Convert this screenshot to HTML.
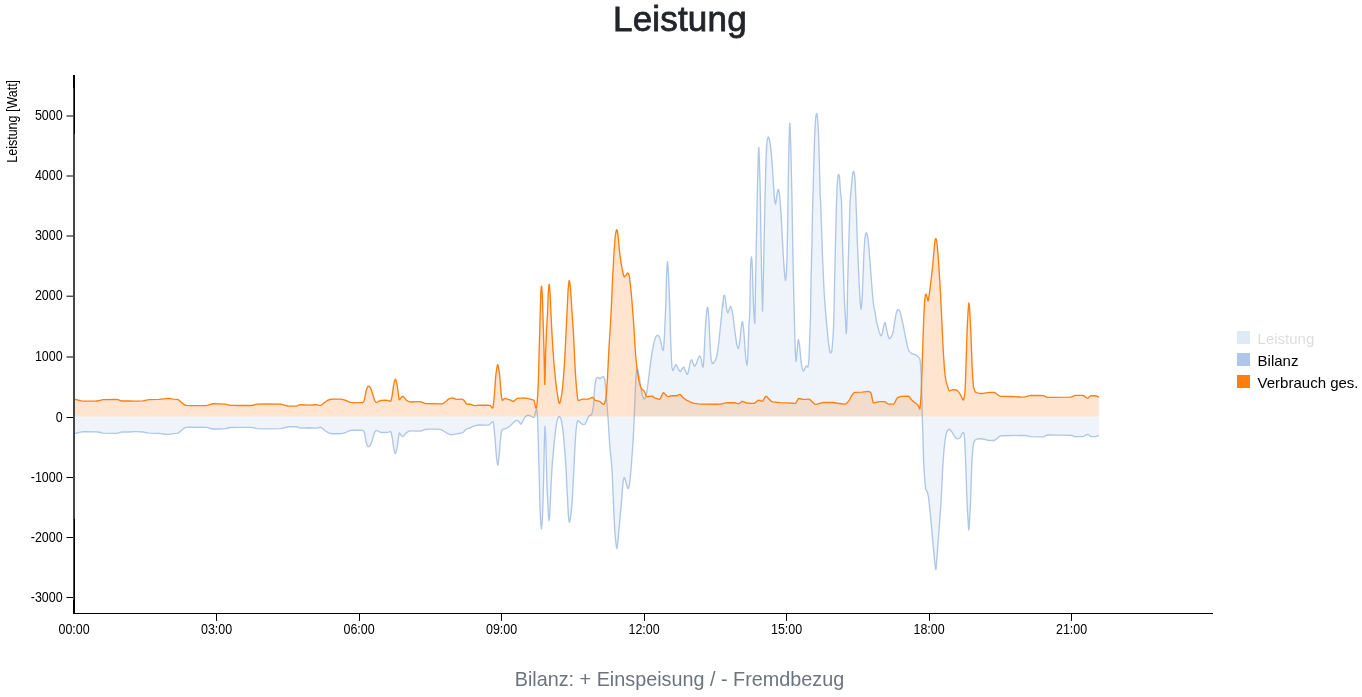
<!DOCTYPE html>
<html lang="de">
<head>
<meta charset="utf-8">
<title>Leistung</title>
<style>
html,body{margin:0;padding:0;background:#fff;}
body{width:1362px;height:697px;position:relative;overflow:hidden;font-family:"Liberation Sans",sans-serif;}
h1{position:absolute;left:0;top:0;width:1362px;margin:0;text-align:center;font-weight:400;font-size:35px;line-height:40px;color:#212529;-webkit-text-stroke:0.8px #212529;}
h1 span{display:inline-block;position:relative;left:-1.1px;top:-1.4px;letter-spacing:0.18px;}
p.cap{position:absolute;left:0;top:663.7px;width:1362px;margin:0;text-align:center;font-size:20.6px;line-height:30px;color:#6c757d;}
p.cap span{display:inline-block;position:relative;left:-1.7px;transform:scaleX(0.961);transform-origin:50% 50%;}
svg{position:absolute;left:0;top:0;}
svg text{font-family:"Liberation Sans",sans-serif;font-size:12.5px;fill:#000;}
.ax line{stroke:#000;stroke-width:1;}
</style>
</head>
<body>
<h1><span>Leistung</span></h1>
<svg width="1362" height="697" viewBox="0 0 1362 697">
<g class="series">
<path d="M74.00,433.34L76.00,433.26L78.50,432.58L81.50,431.93L84.00,431.62L96.50,431.81L98.00,432.01L102.00,432.94L103.50,433.15L116.82,433.34L118.00,433.16L121.00,432.02L122.00,431.81L129.00,431.97L134.50,431.65L136.50,431.63L143.00,432.00L147.50,432.91L149.00,433.14L159.00,433.39L166.00,434.24L169.00,434.36L173.50,433.70L177.00,433.42L178.00,433.23L179.00,432.59L181.00,430.72L183.50,428.66L185.00,427.68L185.50,427.52L186.50,427.40L190.00,427.16L206.50,427.32L208.00,427.59L211.50,428.77L213.24,429.04L219.00,428.96L225.29,428.70L226.50,428.49L229.00,427.73L230.00,427.53L236.00,427.35L251.50,427.33L253.00,427.56L256.00,428.38L257.50,428.66L266.61,428.87L280.50,428.69L282.00,428.42L285.50,427.33L288.50,426.75L290.00,426.63L296.00,426.73L297.00,426.98L299.50,427.89L300.50,428.06L309.27,427.72L316.16,428.06L317.00,427.99L319.50,427.46L320.50,427.37L321.00,427.47L322.00,428.05L324.50,430.28L328.00,432.63L329.00,433.04L330.00,433.28L332.50,433.71L340.26,433.74L341.50,433.64L345.00,432.75L349.00,430.90L350.00,430.58L351.00,430.43L353.50,430.21L356.00,430.13L361.50,430.24L362.64,430.30L363.00,430.44L363.50,430.97L364.00,431.80L364.50,432.91L366.00,441.70L366.50,443.27L367.50,445.82L368.00,446.51L368.33,446.66L369.00,446.41L369.50,445.98L370.50,444.79L371.00,443.79L371.50,442.41L374.50,432.79L375.00,431.73L375.50,431.10L376.00,430.62L376.50,430.47L377.50,430.78L379.50,431.91L381.00,432.27L382.50,432.50L384.50,432.52L387.61,432.37L388.50,432.14L390.00,431.58L390.54,431.51L391.00,432.18L391.50,434.02L392.26,437.70L393.50,446.95L393.98,449.76L394.50,451.75L395.00,453.18L395.36,453.54L395.50,453.48L396.00,452.46L397.00,448.46L399.00,434.04L399.32,433.05L399.50,433.10L400.00,433.60L401.00,435.08L402.00,436.19L402.59,436.50L403.00,436.37L403.50,435.96L404.50,434.93L406.00,433.03L406.50,432.57L408.50,431.43L410.00,430.91L411.50,430.82L418.00,431.13L420.00,431.13L421.50,430.78L424.50,429.64L426.00,429.29L431.50,429.12L437.00,429.12L440.50,429.36L441.50,429.80L447.00,433.20L449.00,434.16L450.50,434.70L451.19,434.78L452.50,434.69L456.36,433.92L460.50,433.22L462.50,432.67L463.50,431.97L465.50,429.82L466.50,429.02L467.50,428.63L470.13,427.89L473.50,426.14L474.44,425.83L477.50,425.27L480.00,425.01L488.50,425.10L489.00,424.87L489.50,424.48L491.50,422.50L492.50,421.72L493.03,421.52L493.50,423.18L494.50,432.02L496.50,457.63L496.82,460.26L497.50,464.30L497.85,465.08L498.00,464.87L498.50,461.84L499.00,457.48L500.00,444.23L501.00,434.54L501.50,431.43L502.00,430.24L502.50,429.53L502.84,429.27L504.00,428.89L506.29,428.41L508.00,427.50L510.59,425.48L513.50,422.51L515.50,420.79L516.00,420.48L516.50,420.32L517.00,420.37L518.00,420.88L519.00,421.65L520.50,423.88L521.00,424.10L521.50,423.64L524.00,418.75L525.00,417.11L526.50,415.82L527.50,415.27L528.15,415.15L529.00,415.30L531.50,416.47L533.00,417.34L533.84,417.56L534.00,417.44L534.50,415.94L536.00,410.08L536.50,409.70L536.76,409.64L537.00,410.55L537.50,416.20L538.00,429.81L540.00,507.22L540.72,522.76L541.00,526.13L541.41,528.79L541.50,528.64L542.10,522.76L542.50,515.49L542.96,503.31L543.65,477.48L544.34,443.04L545.00,426.21L545.50,432.75L546.00,446.49L547.00,488.15L548.47,515.87L548.99,520.70L549.50,517.68L549.68,515.87L551.00,486.39L551.91,468.87L552.50,460.84L554.00,444.44L555.50,430.72L556.50,424.07L557.00,421.41L557.50,419.58L558.50,417.00L559.00,416.39L559.15,416.36L559.50,416.51L560.00,417.14L560.50,418.11L561.00,419.28L561.50,421.17L562.59,427.55L563.50,435.60L565.00,453.40L566.00,468.32L568.00,508.96L568.44,515.87L569.00,520.53L569.50,522.24L570.00,520.64L571.00,514.23L572.00,504.13L572.50,496.00L575.00,445.63L575.50,437.81L576.00,431.03L576.36,427.55L577.00,423.16L577.50,420.97L577.74,420.66L578.50,420.95L580.00,422.20L581.50,423.80L582.00,424.09L583.50,424.38L584.63,424.45L585.00,424.23L585.50,423.42L588.50,416.40L589.00,415.79L589.50,415.51L591.00,414.99L591.52,414.63L592.00,413.50L592.50,411.20L593.50,405.42L594.10,400.00L594.30,392.98L595.00,384.75L595.50,381.83L596.00,379.78L596.50,378.33L597.00,377.77L598.00,377.49L598.50,377.55L599.50,378.59L600.00,378.86L600.50,378.54L601.50,377.28L601.71,377.13L602.50,376.80L603.50,376.63L604.00,377.34L604.50,378.88L605.00,381.13L606.00,391.39L608.08,418.80L609.59,443.04L610.00,448.01L611.50,463.19L612.18,472.31L614.00,515.60L614.93,532.58L615.50,539.29L615.96,543.42L616.50,547.51L616.83,548.59L617.00,548.25L617.50,544.92L618.00,540.54L619.00,528.62L621.50,501.93L622.50,488.39L623.00,482.80L623.50,479.74L624.00,477.74L624.23,477.48L624.50,477.70L625.00,478.94L625.61,480.92L626.98,486.09L627.50,487.56L628.00,488.57L628.19,488.67L628.50,488.26L629.00,486.34L629.50,483.79L630.00,480.03L631.00,469.76L633.18,439.60L634.21,417.22L635.50,385.14L636.00,375.96L636.49,370.59L637.00,369.34L637.50,368.87L638.00,369.89L639.50,378.50L640.79,387.81L642.00,393.79L642.50,395.52L643.50,398.15L644.00,398.90L644.24,399.00L644.50,398.92L645.00,398.38L645.96,396.42L646.50,394.18L648.00,383.76L650.50,363.23L651.50,356.02L652.50,350.04L653.50,344.90L654.50,340.68L655.50,337.63L656.00,336.54L656.29,336.16L657.00,335.54L657.50,335.31L658.00,335.38L658.50,335.79L659.39,337.02L660.00,338.56L660.94,342.18L662.00,347.94L662.31,349.07L663.00,350.37L663.17,350.45L663.50,349.01L664.00,343.48L664.50,334.46L665.50,312.07L665.93,300.00L666.50,276.71L667.00,266.76L667.50,261.69L668.00,265.44L668.50,274.08L670.00,315.19L670.50,335.82L671.50,360.69L671.96,367.15L672.50,369.71L672.99,370.59L673.50,369.89L675.00,365.80L675.50,364.73L675.74,364.57L676.00,364.66L676.50,365.26L677.12,366.29L678.67,369.73L679.50,370.85L680.00,371.32L680.39,371.45L681.00,370.88L682.00,369.02L683.00,367.72L683.50,367.26L683.84,367.15L684.00,367.25L684.50,368.42L685.21,370.59L686.50,373.56L687.00,374.26L687.28,374.38L687.50,374.23L688.00,372.98L689.00,368.87L690.00,363.50L690.38,361.98L691.00,360.42L691.58,359.75L692.00,360.23L694.00,365.66L694.51,366.29L695.00,365.97L695.50,365.18L696.50,363.11L698.00,358.80L699.00,356.81L699.50,356.12L699.85,355.96L700.00,356.02L700.50,356.96L701.00,358.59L701.50,360.82L702.00,364.23L702.26,365.43L702.50,366.12L703.00,367.10L703.12,367.15L703.50,364.32L704.00,356.52L705.00,334.69L706.00,317.84L707.00,309.25L707.50,307.29L707.60,307.23L708.00,308.77L708.80,317.22L710.00,342.92L710.50,351.93L711.00,358.29L711.50,360.93L712.00,362.82L712.50,363.68L713.00,363.56L713.50,363.08L714.50,361.71L715.50,359.81L716.50,356.99L717.00,354.86L717.50,351.89L718.50,344.75L719.50,335.73L721.71,313.77L722.50,304.14L722.92,301.72L723.00,306.68L723.33,298.14L723.50,297.25L724.00,295.57L724.37,295.21L724.50,295.31L725.00,297.00L725.40,299.00L726.50,307.88L727.00,310.43L727.50,312.36L727.81,312.78L728.00,312.65L730.00,307.16L730.50,306.42L731.00,306.96L732.00,310.41L732.50,312.61L733.00,315.52L734.50,328.72L736.50,343.06L737.00,345.24L737.50,346.93L738.00,348.17L738.42,348.55L738.50,348.51L739.00,346.74L740.00,339.63L741.17,327.55L742.00,322.38L742.38,321.52L742.50,321.65L743.00,324.25L743.58,329.27L744.00,334.11L745.50,355.27L745.99,360.26L746.50,363.70L747.02,365.43L747.50,361.42L747.89,355.10L748.92,325.83L749.50,317.94L749.99,305.17L750.05,294.70L750.50,268.93L751.00,260.35L751.50,256.84L752.00,261.16L752.40,268.87L753.09,294.70L753.77,311.91L754.50,321.84L754.81,323.24L755.00,318.16L755.50,286.09L757.50,185.26L757.91,168.87L758.50,150.43L758.77,147.35L759.00,149.79L760.00,182.09L760.32,196.42L761.00,242.72L761.50,269.46L762.00,292.17L762.56,311.05L763.00,297.51L764.97,200.00L766.00,159.49L766.50,148.78L767.00,141.92L767.50,139.12L768.00,137.50L768.41,137.02L768.50,137.05L769.00,138.10L769.61,140.46L770.00,142.38L771.00,150.00L771.50,155.38L772.37,167.15L774.00,192.55L774.50,198.97L775.00,202.56L775.50,204.16L776.00,201.85L777.00,194.42L777.50,191.37L778.00,189.99L778.40,189.53L778.50,189.61L779.00,191.53L779.50,194.72L780.50,205.91L781.15,215.36L783.00,250.88L784.00,267.16L785.00,278.34L785.50,280.56L786.00,277.89L786.50,272.14L787.00,257.94L787.50,235.49L788.50,167.66L788.90,148.21L789.50,126.57L789.76,123.24L790.00,125.33L790.50,138.62L791.00,155.94L792.00,200.13L792.69,243.04L793.55,286.09L795.00,343.47L795.27,351.65L795.50,355.61L796.00,361.16L796.13,361.47L796.50,358.91L797.00,351.82L798.00,341.14L798.37,339.60L798.50,339.71L799.00,341.76L799.57,345.63L800.78,358.54L801.50,364.38L801.98,367.15L802.50,369.24L803.00,370.72L803.36,371.11L803.50,371.07L804.00,370.39L805.00,368.15L806.00,366.31L806.46,365.94L807.00,366.35L807.50,366.97L807.84,367.15L808.00,366.92L808.50,363.89L809.00,358.49L810.50,317.68L811.00,282.55L811.97,243.04L812.50,213.98L813.86,161.98L814.50,141.07L814.90,130.99L815.50,119.94L816.00,115.62L816.50,113.53L816.62,113.43L817.00,114.35L817.50,117.37L818.00,124.23L818.50,134.63L819.37,161.98L820.00,189.87L820.23,196.42L820.58,200.00L822.50,256.60L824.00,290.16L825.00,305.09L827.00,327.96L828.50,342.64L829.50,349.60L830.00,352.23L830.39,353.03L831.00,352.64L831.60,351.65L832.00,349.56L832.98,337.88L833.50,328.57L834.00,313.94L834.70,277.48L836.50,202.58L837.28,184.37L838.00,176.02L838.14,175.41L838.50,174.65L838.83,174.38L839.00,174.64L839.52,177.48L840.50,192.40L841.41,200.00L841.50,201.68L842.27,234.44L844.00,291.11L844.50,303.09L845.37,317.22L846.00,331.45L846.23,333.57L846.50,331.80L847.00,321.73L847.61,286.09L848.00,270.45L850.00,203.60L850.19,200.00L852.50,175.04L853.00,172.19L853.50,171.33L853.64,171.28L854.00,171.88L854.50,174.05L855.00,179.80L855.36,186.09L856.05,203.44L857.50,245.67L859.00,280.96L859.50,291.04L860.00,298.79L860.50,305.73L861.00,309.31L861.50,306.80L862.25,296.42L863.50,263.49L864.00,251.99L864.50,243.81L865.00,237.80L865.34,235.30L866.00,232.91L866.21,232.71L866.50,232.92L867.00,234.00L867.50,235.64L868.00,238.91L868.79,246.49L869.50,254.99L872.00,288.55L873.00,299.75L873.50,304.25L874.00,307.28L874.81,311.19L876.50,321.32L878.00,327.46L879.00,331.17L879.81,333.57L880.50,335.08L881.00,335.75L881.18,335.81L881.50,335.58L882.00,334.48L882.56,332.71L883.50,327.16L884.00,324.91L884.50,323.13L885.00,322.39L885.50,323.61L886.01,325.83L887.21,332.71L888.00,335.85L889.00,338.30L889.45,338.74L890.00,338.49L890.50,337.96L891.50,336.48L892.00,335.40L893.00,332.30L893.50,329.66L895.50,316.89L896.00,314.19L896.34,312.91L897.00,311.04L897.50,309.96L898.00,309.48L898.50,309.62L899.00,310.09L899.78,311.19L900.50,313.13L902.50,321.99L907.00,344.70L907.87,348.21L908.50,349.78L909.00,350.78L909.59,351.65L910.50,352.59L911.50,353.36L912.50,353.85L915.50,354.70L916.00,354.95L917.00,355.66L919.00,357.64L919.50,358.40L920.00,359.70L920.50,364.65L921.00,373.17L922.00,400.61L922.38,419.97L922.90,434.44L923.50,457.83L924.00,468.57L924.50,475.93L925.50,487.71L925.83,489.53L926.00,489.93L927.00,491.22L927.50,492.40L928.41,496.42L929.00,500.89L931.00,521.13L934.00,554.61L935.00,564.61L935.50,568.69L935.81,569.59L936.00,568.99L936.50,563.50L940.98,503.31L942.50,471.69L943.00,463.15L944.00,449.82L945.00,440.33L946.00,434.65L946.50,432.69L946.83,431.85L947.50,430.68L948.00,429.97L948.50,429.48L949.07,429.27L949.50,429.39L950.00,429.75L951.50,431.44L955.00,436.89L956.50,438.25L957.00,438.56L957.50,438.73L958.00,438.72L959.00,438.38L960.26,437.53L960.50,437.22L961.50,434.57L961.98,433.57L963.00,432.49L963.36,432.37L963.50,432.48L964.00,434.41L964.50,438.00L965.00,446.86L965.50,458.55L967.00,500.42L967.50,510.84L968.50,527.10L968.87,529.99L969.00,529.32L970.50,503.63L971.45,472.31L972.00,460.71L972.49,453.37L973.00,447.72L973.50,443.84L973.69,443.04L974.50,441.08L975.00,440.27L975.50,439.76L976.50,439.29L978.00,438.85L979.00,438.74L980.00,438.76L984.50,439.28L988.00,440.25L989.00,440.43L994.00,440.45L994.50,440.31L995.50,439.68L999.00,436.75L1000.00,436.02L1000.50,435.84L1001.50,435.78L1023.50,435.30L1025.50,435.54L1029.50,436.41L1031.00,436.63L1042.91,436.85L1044.00,436.63L1046.50,435.37L1047.50,435.02L1048.00,434.95L1070.50,435.30L1071.50,435.47L1074.50,436.51L1075.62,436.67L1083.00,436.62L1084.00,436.22L1086.50,434.73L1087.50,434.44L1088.00,434.49L1088.50,434.76L1090.00,436.12L1090.50,436.48L1091.00,436.67L1094.56,436.67L1095.50,436.60L1097.00,436.21L1098.86,435.47L1098.86,416.50 L74.00,416.50 Z" fill="#aec7e8" fill-opacity="0.2" stroke="none"/>
<path d="M74.00,433.34L76.00,433.26L78.50,432.58L81.50,431.93L84.00,431.62L96.50,431.81L98.00,432.01L102.00,432.94L103.50,433.15L116.82,433.34L118.00,433.16L121.00,432.02L122.00,431.81L129.00,431.97L134.50,431.65L136.50,431.63L143.00,432.00L147.50,432.91L149.00,433.14L159.00,433.39L166.00,434.24L169.00,434.36L173.50,433.70L177.00,433.42L178.00,433.23L179.00,432.59L181.00,430.72L183.50,428.66L185.00,427.68L185.50,427.52L186.50,427.40L190.00,427.16L206.50,427.32L208.00,427.59L211.50,428.77L213.24,429.04L219.00,428.96L225.29,428.70L226.50,428.49L229.00,427.73L230.00,427.53L236.00,427.35L251.50,427.33L253.00,427.56L256.00,428.38L257.50,428.66L266.61,428.87L280.50,428.69L282.00,428.42L285.50,427.33L288.50,426.75L290.00,426.63L296.00,426.73L297.00,426.98L299.50,427.89L300.50,428.06L309.27,427.72L316.16,428.06L317.00,427.99L319.50,427.46L320.50,427.37L321.00,427.47L322.00,428.05L324.50,430.28L328.00,432.63L329.00,433.04L330.00,433.28L332.50,433.71L340.26,433.74L341.50,433.64L345.00,432.75L349.00,430.90L350.00,430.58L351.00,430.43L353.50,430.21L356.00,430.13L361.50,430.24L362.64,430.30L363.00,430.44L363.50,430.97L364.00,431.80L364.50,432.91L366.00,441.70L366.50,443.27L367.50,445.82L368.00,446.51L368.33,446.66L369.00,446.41L369.50,445.98L370.50,444.79L371.00,443.79L371.50,442.41L374.50,432.79L375.00,431.73L375.50,431.10L376.00,430.62L376.50,430.47L377.50,430.78L379.50,431.91L381.00,432.27L382.50,432.50L384.50,432.52L387.61,432.37L388.50,432.14L390.00,431.58L390.54,431.51L391.00,432.18L391.50,434.02L392.26,437.70L393.50,446.95L393.98,449.76L394.50,451.75L395.00,453.18L395.36,453.54L395.50,453.48L396.00,452.46L397.00,448.46L399.00,434.04L399.32,433.05L399.50,433.10L400.00,433.60L401.00,435.08L402.00,436.19L402.59,436.50L403.00,436.37L403.50,435.96L404.50,434.93L406.00,433.03L406.50,432.57L408.50,431.43L410.00,430.91L411.50,430.82L418.00,431.13L420.00,431.13L421.50,430.78L424.50,429.64L426.00,429.29L431.50,429.12L437.00,429.12L440.50,429.36L441.50,429.80L447.00,433.20L449.00,434.16L450.50,434.70L451.19,434.78L452.50,434.69L456.36,433.92L460.50,433.22L462.50,432.67L463.50,431.97L465.50,429.82L466.50,429.02L467.50,428.63L470.13,427.89L473.50,426.14L474.44,425.83L477.50,425.27L480.00,425.01L488.50,425.10L489.00,424.87L489.50,424.48L491.50,422.50L492.50,421.72L493.03,421.52L493.50,423.18L494.50,432.02L496.50,457.63L496.82,460.26L497.50,464.30L497.85,465.08L498.00,464.87L498.50,461.84L499.00,457.48L500.00,444.23L501.00,434.54L501.50,431.43L502.00,430.24L502.50,429.53L502.84,429.27L504.00,428.89L506.29,428.41L508.00,427.50L510.59,425.48L513.50,422.51L515.50,420.79L516.00,420.48L516.50,420.32L517.00,420.37L518.00,420.88L519.00,421.65L520.50,423.88L521.00,424.10L521.50,423.64L524.00,418.75L525.00,417.11L526.50,415.82L527.50,415.27L528.15,415.15L529.00,415.30L531.50,416.47L533.00,417.34L533.84,417.56L534.00,417.44L534.50,415.94L536.00,410.08L536.50,409.70L536.76,409.64L537.00,410.55L537.50,416.20L538.00,429.81L540.00,507.22L540.72,522.76L541.00,526.13L541.41,528.79L541.50,528.64L542.10,522.76L542.50,515.49L542.96,503.31L543.65,477.48L544.34,443.04L545.00,426.21L545.50,432.75L546.00,446.49L547.00,488.15L548.47,515.87L548.99,520.70L549.50,517.68L549.68,515.87L551.00,486.39L551.91,468.87L552.50,460.84L554.00,444.44L555.50,430.72L556.50,424.07L557.00,421.41L557.50,419.58L558.50,417.00L559.00,416.39L559.15,416.36L559.50,416.51L560.00,417.14L560.50,418.11L561.00,419.28L561.50,421.17L562.59,427.55L563.50,435.60L565.00,453.40L566.00,468.32L568.00,508.96L568.44,515.87L569.00,520.53L569.50,522.24L570.00,520.64L571.00,514.23L572.00,504.13L572.50,496.00L575.00,445.63L575.50,437.81L576.00,431.03L576.36,427.55L577.00,423.16L577.50,420.97L577.74,420.66L578.50,420.95L580.00,422.20L581.50,423.80L582.00,424.09L583.50,424.38L584.63,424.45L585.00,424.23L585.50,423.42L588.50,416.40L589.00,415.79L589.50,415.51L591.00,414.99L591.52,414.63L592.00,413.50L592.50,411.20L593.50,405.42L594.10,400.00L594.30,392.98L595.00,384.75L595.50,381.83L596.00,379.78L596.50,378.33L597.00,377.77L598.00,377.49L598.50,377.55L599.50,378.59L600.00,378.86L600.50,378.54L601.50,377.28L601.71,377.13L602.50,376.80L603.50,376.63L604.00,377.34L604.50,378.88L605.00,381.13L606.00,391.39L608.08,418.80L609.59,443.04L610.00,448.01L611.50,463.19L612.18,472.31L614.00,515.60L614.93,532.58L615.50,539.29L615.96,543.42L616.50,547.51L616.83,548.59L617.00,548.25L617.50,544.92L618.00,540.54L619.00,528.62L621.50,501.93L622.50,488.39L623.00,482.80L623.50,479.74L624.00,477.74L624.23,477.48L624.50,477.70L625.00,478.94L625.61,480.92L626.98,486.09L627.50,487.56L628.00,488.57L628.19,488.67L628.50,488.26L629.00,486.34L629.50,483.79L630.00,480.03L631.00,469.76L633.18,439.60L634.21,417.22L635.50,385.14L636.00,375.96L636.49,370.59L637.00,369.34L637.50,368.87L638.00,369.89L639.50,378.50L640.79,387.81L642.00,393.79L642.50,395.52L643.50,398.15L644.00,398.90L644.24,399.00L644.50,398.92L645.00,398.38L645.96,396.42L646.50,394.18L648.00,383.76L650.50,363.23L651.50,356.02L652.50,350.04L653.50,344.90L654.50,340.68L655.50,337.63L656.00,336.54L656.29,336.16L657.00,335.54L657.50,335.31L658.00,335.38L658.50,335.79L659.39,337.02L660.00,338.56L660.94,342.18L662.00,347.94L662.31,349.07L663.00,350.37L663.17,350.45L663.50,349.01L664.00,343.48L664.50,334.46L665.50,312.07L665.93,300.00L666.50,276.71L667.00,266.76L667.50,261.69L668.00,265.44L668.50,274.08L670.00,315.19L670.50,335.82L671.50,360.69L671.96,367.15L672.50,369.71L672.99,370.59L673.50,369.89L675.00,365.80L675.50,364.73L675.74,364.57L676.00,364.66L676.50,365.26L677.12,366.29L678.67,369.73L679.50,370.85L680.00,371.32L680.39,371.45L681.00,370.88L682.00,369.02L683.00,367.72L683.50,367.26L683.84,367.15L684.00,367.25L684.50,368.42L685.21,370.59L686.50,373.56L687.00,374.26L687.28,374.38L687.50,374.23L688.00,372.98L689.00,368.87L690.00,363.50L690.38,361.98L691.00,360.42L691.58,359.75L692.00,360.23L694.00,365.66L694.51,366.29L695.00,365.97L695.50,365.18L696.50,363.11L698.00,358.80L699.00,356.81L699.50,356.12L699.85,355.96L700.00,356.02L700.50,356.96L701.00,358.59L701.50,360.82L702.00,364.23L702.26,365.43L702.50,366.12L703.00,367.10L703.12,367.15L703.50,364.32L704.00,356.52L705.00,334.69L706.00,317.84L707.00,309.25L707.50,307.29L707.60,307.23L708.00,308.77L708.80,317.22L710.00,342.92L710.50,351.93L711.00,358.29L711.50,360.93L712.00,362.82L712.50,363.68L713.00,363.56L713.50,363.08L714.50,361.71L715.50,359.81L716.50,356.99L717.00,354.86L717.50,351.89L718.50,344.75L719.50,335.73L721.71,313.77L722.50,304.14L722.92,301.72L723.00,306.68L723.33,298.14L723.50,297.25L724.00,295.57L724.37,295.21L724.50,295.31L725.00,297.00L725.40,299.00L726.50,307.88L727.00,310.43L727.50,312.36L727.81,312.78L728.00,312.65L730.00,307.16L730.50,306.42L731.00,306.96L732.00,310.41L732.50,312.61L733.00,315.52L734.50,328.72L736.50,343.06L737.00,345.24L737.50,346.93L738.00,348.17L738.42,348.55L738.50,348.51L739.00,346.74L740.00,339.63L741.17,327.55L742.00,322.38L742.38,321.52L742.50,321.65L743.00,324.25L743.58,329.27L744.00,334.11L745.50,355.27L745.99,360.26L746.50,363.70L747.02,365.43L747.50,361.42L747.89,355.10L748.92,325.83L749.50,317.94L749.99,305.17L750.05,294.70L750.50,268.93L751.00,260.35L751.50,256.84L752.00,261.16L752.40,268.87L753.09,294.70L753.77,311.91L754.50,321.84L754.81,323.24L755.00,318.16L755.50,286.09L757.50,185.26L757.91,168.87L758.50,150.43L758.77,147.35L759.00,149.79L760.00,182.09L760.32,196.42L761.00,242.72L761.50,269.46L762.00,292.17L762.56,311.05L763.00,297.51L764.97,200.00L766.00,159.49L766.50,148.78L767.00,141.92L767.50,139.12L768.00,137.50L768.41,137.02L768.50,137.05L769.00,138.10L769.61,140.46L770.00,142.38L771.00,150.00L771.50,155.38L772.37,167.15L774.00,192.55L774.50,198.97L775.00,202.56L775.50,204.16L776.00,201.85L777.00,194.42L777.50,191.37L778.00,189.99L778.40,189.53L778.50,189.61L779.00,191.53L779.50,194.72L780.50,205.91L781.15,215.36L783.00,250.88L784.00,267.16L785.00,278.34L785.50,280.56L786.00,277.89L786.50,272.14L787.00,257.94L787.50,235.49L788.50,167.66L788.90,148.21L789.50,126.57L789.76,123.24L790.00,125.33L790.50,138.62L791.00,155.94L792.00,200.13L792.69,243.04L793.55,286.09L795.00,343.47L795.27,351.65L795.50,355.61L796.00,361.16L796.13,361.47L796.50,358.91L797.00,351.82L798.00,341.14L798.37,339.60L798.50,339.71L799.00,341.76L799.57,345.63L800.78,358.54L801.50,364.38L801.98,367.15L802.50,369.24L803.00,370.72L803.36,371.11L803.50,371.07L804.00,370.39L805.00,368.15L806.00,366.31L806.46,365.94L807.00,366.35L807.50,366.97L807.84,367.15L808.00,366.92L808.50,363.89L809.00,358.49L810.50,317.68L811.00,282.55L811.97,243.04L812.50,213.98L813.86,161.98L814.50,141.07L814.90,130.99L815.50,119.94L816.00,115.62L816.50,113.53L816.62,113.43L817.00,114.35L817.50,117.37L818.00,124.23L818.50,134.63L819.37,161.98L820.00,189.87L820.23,196.42L820.58,200.00L822.50,256.60L824.00,290.16L825.00,305.09L827.00,327.96L828.50,342.64L829.50,349.60L830.00,352.23L830.39,353.03L831.00,352.64L831.60,351.65L832.00,349.56L832.98,337.88L833.50,328.57L834.00,313.94L834.70,277.48L836.50,202.58L837.28,184.37L838.00,176.02L838.14,175.41L838.50,174.65L838.83,174.38L839.00,174.64L839.52,177.48L840.50,192.40L841.41,200.00L841.50,201.68L842.27,234.44L844.00,291.11L844.50,303.09L845.37,317.22L846.00,331.45L846.23,333.57L846.50,331.80L847.00,321.73L847.61,286.09L848.00,270.45L850.00,203.60L850.19,200.00L852.50,175.04L853.00,172.19L853.50,171.33L853.64,171.28L854.00,171.88L854.50,174.05L855.00,179.80L855.36,186.09L856.05,203.44L857.50,245.67L859.00,280.96L859.50,291.04L860.00,298.79L860.50,305.73L861.00,309.31L861.50,306.80L862.25,296.42L863.50,263.49L864.00,251.99L864.50,243.81L865.00,237.80L865.34,235.30L866.00,232.91L866.21,232.71L866.50,232.92L867.00,234.00L867.50,235.64L868.00,238.91L868.79,246.49L869.50,254.99L872.00,288.55L873.00,299.75L873.50,304.25L874.00,307.28L874.81,311.19L876.50,321.32L878.00,327.46L879.00,331.17L879.81,333.57L880.50,335.08L881.00,335.75L881.18,335.81L881.50,335.58L882.00,334.48L882.56,332.71L883.50,327.16L884.00,324.91L884.50,323.13L885.00,322.39L885.50,323.61L886.01,325.83L887.21,332.71L888.00,335.85L889.00,338.30L889.45,338.74L890.00,338.49L890.50,337.96L891.50,336.48L892.00,335.40L893.00,332.30L893.50,329.66L895.50,316.89L896.00,314.19L896.34,312.91L897.00,311.04L897.50,309.96L898.00,309.48L898.50,309.62L899.00,310.09L899.78,311.19L900.50,313.13L902.50,321.99L907.00,344.70L907.87,348.21L908.50,349.78L909.00,350.78L909.59,351.65L910.50,352.59L911.50,353.36L912.50,353.85L915.50,354.70L916.00,354.95L917.00,355.66L919.00,357.64L919.50,358.40L920.00,359.70L920.50,364.65L921.00,373.17L922.00,400.61L922.38,419.97L922.90,434.44L923.50,457.83L924.00,468.57L924.50,475.93L925.50,487.71L925.83,489.53L926.00,489.93L927.00,491.22L927.50,492.40L928.41,496.42L929.00,500.89L931.00,521.13L934.00,554.61L935.00,564.61L935.50,568.69L935.81,569.59L936.00,568.99L936.50,563.50L940.98,503.31L942.50,471.69L943.00,463.15L944.00,449.82L945.00,440.33L946.00,434.65L946.50,432.69L946.83,431.85L947.50,430.68L948.00,429.97L948.50,429.48L949.07,429.27L949.50,429.39L950.00,429.75L951.50,431.44L955.00,436.89L956.50,438.25L957.00,438.56L957.50,438.73L958.00,438.72L959.00,438.38L960.26,437.53L960.50,437.22L961.50,434.57L961.98,433.57L963.00,432.49L963.36,432.37L963.50,432.48L964.00,434.41L964.50,438.00L965.00,446.86L965.50,458.55L967.00,500.42L967.50,510.84L968.50,527.10L968.87,529.99L969.00,529.32L970.50,503.63L971.45,472.31L972.00,460.71L972.49,453.37L973.00,447.72L973.50,443.84L973.69,443.04L974.50,441.08L975.00,440.27L975.50,439.76L976.50,439.29L978.00,438.85L979.00,438.74L980.00,438.76L984.50,439.28L988.00,440.25L989.00,440.43L994.00,440.45L994.50,440.31L995.50,439.68L999.00,436.75L1000.00,436.02L1000.50,435.84L1001.50,435.78L1023.50,435.30L1025.50,435.54L1029.50,436.41L1031.00,436.63L1042.91,436.85L1044.00,436.63L1046.50,435.37L1047.50,435.02L1048.00,434.95L1070.50,435.30L1071.50,435.47L1074.50,436.51L1075.62,436.67L1083.00,436.62L1084.00,436.22L1086.50,434.73L1087.50,434.44L1088.00,434.49L1088.50,434.76L1090.00,436.12L1090.50,436.48L1091.00,436.67L1094.56,436.67L1095.50,436.60L1097.00,436.21L1098.86,435.47" fill="none" stroke="#aec7e8" stroke-width="1.35" stroke-linejoin="round"/>
<path d="M74.00,399.46L76.00,399.54L78.50,400.22L81.50,400.87L84.00,401.18L96.50,400.99L98.00,400.79L102.00,399.86L103.50,399.65L116.82,399.46L118.00,399.64L121.00,400.78L122.00,400.99L129.00,400.83L134.50,401.15L136.50,401.17L143.00,400.80L147.50,399.89L149.00,399.66L159.00,399.41L166.00,398.56L169.00,398.44L173.50,399.10L177.00,399.38L178.00,399.57L179.00,400.21L181.00,402.08L183.50,404.14L185.00,405.12L185.50,405.28L186.50,405.40L190.00,405.64L206.50,405.48L208.00,405.21L211.50,404.03L213.24,403.76L219.00,403.84L225.29,404.10L226.50,404.31L229.00,405.07L230.00,405.27L236.00,405.45L251.50,405.47L253.00,405.24L256.00,404.42L257.50,404.14L266.61,403.93L280.50,404.11L282.00,404.38L285.50,405.47L288.50,406.05L290.00,406.17L296.00,406.07L297.00,405.82L299.50,404.91L300.50,404.74L309.27,405.08L316.16,404.74L317.00,404.81L319.50,405.34L320.50,405.43L321.00,405.33L322.00,404.75L324.50,402.52L328.00,400.17L329.00,399.76L330.00,399.52L332.50,399.09L340.26,399.06L341.50,399.16L345.00,400.05L349.00,401.90L350.00,402.22L351.00,402.37L353.50,402.59L356.00,402.67L361.50,402.56L362.64,402.50L363.00,402.36L363.50,401.83L364.00,401.00L364.50,399.89L366.00,391.10L366.50,389.53L367.50,386.98L368.00,386.29L368.33,386.14L369.00,386.39L369.50,386.82L370.50,388.01L371.00,389.01L371.50,390.39L374.50,400.01L375.00,401.07L375.50,401.70L376.00,402.18L376.50,402.33L377.50,402.02L379.50,400.89L381.00,400.53L382.50,400.30L384.50,400.28L387.61,400.43L388.50,400.66L390.00,401.22L390.54,401.29L391.00,400.62L391.50,398.78L392.26,395.10L393.50,385.85L393.98,383.04L394.50,381.05L395.00,379.62L395.36,379.26L395.50,379.32L396.00,380.34L397.00,384.34L399.00,398.76L399.32,399.75L399.50,399.70L400.00,399.20L401.00,397.72L402.00,396.61L402.59,396.30L403.00,396.43L403.50,396.84L404.50,397.87L406.00,399.77L406.50,400.23L408.50,401.37L410.00,401.89L411.50,401.98L418.00,401.67L420.00,401.67L421.50,402.02L424.50,403.16L426.00,403.51L441.85,403.88L442.50,403.76L443.00,403.55L444.00,402.91L446.00,401.44L448.00,399.56L449.00,398.81L449.59,398.54L451.00,398.16L452.50,398.04L453.50,398.25L456.00,399.17L457.00,399.38L458.00,399.38L461.50,399.06L462.00,399.10L462.50,399.30L464.00,400.36L464.50,400.97L466.00,403.42L466.50,403.93L466.81,404.05L470.50,404.25L471.50,404.55L473.50,405.41L474.50,405.60L479.50,405.26L487.00,405.26L490.06,405.43L490.50,405.68L492.00,407.78L492.58,408.14L493.00,407.06L493.50,403.60L494.30,396.09L495.50,379.57L496.00,373.91L497.00,366.99L497.50,365.03L497.75,364.75L498.00,365.04L498.50,367.04L499.50,373.93L500.00,379.44L501.00,392.75L501.50,396.53L502.00,399.47L502.40,400.39L503.00,400.08L504.00,399.01L504.50,398.69L505.00,398.68L506.50,398.89L509.00,399.55L510.00,399.95L512.00,400.97L513.24,401.25L514.00,401.03L514.50,400.68L516.50,398.82L517.00,398.50L517.50,398.33L521.00,398.07L524.44,397.98L525.50,398.05L527.00,398.33L532.00,399.56L533.00,399.91L534.00,400.49L534.50,402.01L535.50,406.95L536.00,408.40L536.14,408.48L536.50,407.59L537.00,403.78L537.50,397.82L538.00,390.21L538.50,375.58L540.79,292.78L541.00,289.68L541.50,286.08L542.00,290.35L542.17,292.78L542.50,301.23L544.00,350.69L544.50,377.09L544.75,384.38L545.00,379.62L545.61,353.04L546.47,330.66L547.51,313.44L548.37,291.06L549.00,284.98L549.23,284.35L549.50,285.80L550.00,292.26L551.81,330.66L553.00,350.32L554.00,363.82L555.50,379.58L556.50,388.17L558.50,400.92L559.00,402.81L559.39,403.32L559.50,403.29L560.00,402.44L560.50,400.69L561.50,395.84L562.00,392.57L562.50,388.22L563.50,377.09L564.50,363.32L565.00,354.34L568.00,291.66L568.50,285.40L569.00,281.05L569.20,280.56L569.50,281.18L570.00,284.15L570.50,288.61L571.61,306.56L573.33,330.66L575.00,366.28L575.50,374.55L576.50,388.18L577.50,397.39L578.00,400.19L578.15,400.39L579.00,400.30L582.00,399.35L582.98,399.19L588.50,398.97L589.50,398.61L591.50,397.65L592.50,397.47L593.00,397.71L593.50,398.24L594.50,399.61L595.00,400.16L595.37,400.39L599.50,401.32L600.50,402.02L602.50,403.89L603.00,404.20L603.64,404.35L604.00,404.17L604.50,403.37L605.00,402.05L605.70,399.53L606.00,397.72L606.50,392.40L607.50,377.69L609.15,344.44L610.52,323.77L611.38,306.56L612.59,279.01L613.97,253.18L615.00,238.97L615.34,235.96L616.00,231.90L616.50,230.00L616.72,229.77L617.00,230.11L617.50,231.97L618.00,234.93L619.13,247.84L620.00,255.36L620.85,261.62L622.00,268.40L623.50,275.06L624.00,276.50L624.30,276.77L624.50,276.73L625.00,276.33L626.02,275.05L627.00,273.60L627.50,273.06L627.74,272.98L628.00,273.09L628.50,273.84L629.12,275.39L629.50,277.25L631.00,290.37L632.00,301.58L634.00,328.30L635.00,345.60L635.49,353.04L636.00,358.91L637.00,368.38L637.73,373.71L638.50,378.31L639.50,382.98L640.50,386.27L641.00,387.61L641.50,388.67L642.00,389.36L644.10,390.92L644.50,391.54L645.00,392.68L646.00,395.25L646.50,396.21L647.00,396.60L648.00,396.55L651.00,396.13L652.00,396.10L652.50,396.25L653.00,396.54L654.50,397.72L655.29,398.15L658.00,399.00L659.59,399.19L660.00,398.94L660.50,398.12L661.50,395.85L662.50,393.96L663.00,393.08L663.50,392.65L664.00,392.83L665.50,394.60L667.00,396.01L667.50,396.38L668.00,396.58L669.00,396.51L672.00,395.61L677.00,395.73L677.50,395.55L679.00,394.59L679.74,394.37L680.00,394.41L680.50,394.72L682.50,397.15L684.50,398.75L687.00,400.38L690.00,401.86L692.50,402.88L694.50,403.42L698.00,403.93L701.00,404.17L715.50,404.22L720.33,404.05L722.00,403.79L725.50,402.87L727.22,402.67L734.50,402.70L735.50,402.93L737.50,403.59L738.50,403.70L739.00,403.57L739.50,403.29L741.50,401.74L742.37,401.47L743.50,401.68L746.00,402.77L747.00,403.01L750.50,403.27L754.00,403.36L754.50,403.23L755.00,402.95L757.50,400.76L758.00,400.45L758.50,400.28L759.50,400.39L761.50,401.19L762.17,401.29L762.50,401.19L763.00,400.68L763.50,399.88L765.00,397.10L765.50,396.50L765.96,396.30L766.50,396.44L767.00,396.79L769.00,399.01L771.00,401.02L771.50,401.42L771.98,401.64L773.00,401.86L776.00,402.29L780.00,402.56L787.50,402.85L793.00,403.28L795.23,403.36L795.50,403.27L796.00,402.74L798.00,399.02L798.50,398.57L798.67,398.54L800.00,398.68L802.50,399.26L803.50,399.39L805.00,399.36L808.50,399.07L809.00,399.06L809.50,399.17L810.50,399.93L812.00,401.57L814.50,404.03L815.00,404.32L815.37,404.39L817.00,404.20L821.50,402.81L823.50,402.50L833.00,402.53L837.50,403.25L841.50,403.78L845.16,404.05L846.00,403.79L846.50,403.43L848.60,401.12L849.50,399.77L851.50,395.93L853.00,393.76L854.00,392.62L854.63,392.34L862.00,392.14L866.50,391.59L868.50,391.48L869.00,391.57L870.00,392.05L870.64,392.51L871.00,393.16L871.50,395.00L872.50,399.92L873.00,401.90L873.50,402.83L875.00,402.67L878.00,401.85L879.00,401.67L884.00,401.64L885.00,401.92L887.50,403.52L888.50,403.97L889.06,404.05L893.50,404.03L894.00,403.72L894.50,403.07L896.50,399.17L897.00,398.35L897.67,397.68L899.50,396.85L901.50,396.34L908.00,396.13L908.50,396.25L909.00,396.58L909.50,397.07L911.50,399.72L912.31,400.61L914.00,402.00L916.50,403.74L917.22,404.35L918.00,405.40L918.60,406.42L919.50,408.70L919.80,409.00L920.00,408.47L920.50,403.58L921.01,396.09L921.50,385.54L923.50,324.29L924.10,310.00L924.62,301.39L925.00,297.76L925.31,295.88L925.50,295.12L926.00,293.99L926.50,294.98L928.00,300.84L928.06,300.87L928.50,299.57L930.00,288.96L932.00,271.83L932.71,265.06L934.50,245.13L935.00,240.67L935.50,238.95L935.81,238.55L936.00,238.70L936.50,240.23L937.00,243.12L938.00,254.44L939.00,268.08L940.50,293.33L943.00,346.08L943.50,354.82L944.50,369.44L945.11,375.43L946.00,380.62L946.50,382.81L947.00,384.64L948.50,389.29L949.00,390.39L949.50,390.91L950.00,390.88L950.50,390.72L952.50,389.73L953.37,389.55L955.00,389.77L957.00,390.49L957.50,390.84L958.50,391.90L960.26,394.37L961.00,395.79L962.50,399.22L963.00,399.89L963.36,400.05L963.50,399.97L964.00,398.59L964.50,395.77L965.00,391.70L965.50,380.57L967.15,328.94L968.00,313.04L968.50,306.20L968.87,302.94L969.00,303.21L969.56,308.11L970.00,315.29L971.00,335.58L972.00,363.56L972.31,370.26L973.00,381.04L973.50,386.38L973.69,387.48L974.50,390.26L975.00,391.41L975.50,392.12L976.50,392.63L978.00,393.13L979.50,393.42L980.92,393.51L983.00,393.35L987.50,392.67L991.50,392.37L994.00,392.31L995.00,392.69L999.50,396.00L1000.00,396.27L1000.72,396.43L1011.50,396.45L1020.00,397.02L1023.11,397.12L1025.00,396.91L1029.00,395.81L1031.00,395.43L1039.00,395.47L1043.50,395.66L1044.50,396.03L1046.50,397.06L1047.50,397.40L1051.50,397.44L1070.50,397.12L1071.50,396.91L1074.00,395.79L1075.00,395.47L1075.62,395.40L1082.51,395.40L1083.50,395.67L1086.50,397.79L1087.50,398.15L1088.00,398.09L1088.50,397.80L1090.00,396.34L1090.50,395.95L1091.00,395.75L1094.56,395.74L1095.50,395.83L1097.00,396.27L1098.86,397.12L1098.86,416.50 L74.00,416.50 Z" fill="#ff7f0e" fill-opacity="0.2" stroke="none"/>
<path d="M74.00,399.46L76.00,399.54L78.50,400.22L81.50,400.87L84.00,401.18L96.50,400.99L98.00,400.79L102.00,399.86L103.50,399.65L116.82,399.46L118.00,399.64L121.00,400.78L122.00,400.99L129.00,400.83L134.50,401.15L136.50,401.17L143.00,400.80L147.50,399.89L149.00,399.66L159.00,399.41L166.00,398.56L169.00,398.44L173.50,399.10L177.00,399.38L178.00,399.57L179.00,400.21L181.00,402.08L183.50,404.14L185.00,405.12L185.50,405.28L186.50,405.40L190.00,405.64L206.50,405.48L208.00,405.21L211.50,404.03L213.24,403.76L219.00,403.84L225.29,404.10L226.50,404.31L229.00,405.07L230.00,405.27L236.00,405.45L251.50,405.47L253.00,405.24L256.00,404.42L257.50,404.14L266.61,403.93L280.50,404.11L282.00,404.38L285.50,405.47L288.50,406.05L290.00,406.17L296.00,406.07L297.00,405.82L299.50,404.91L300.50,404.74L309.27,405.08L316.16,404.74L317.00,404.81L319.50,405.34L320.50,405.43L321.00,405.33L322.00,404.75L324.50,402.52L328.00,400.17L329.00,399.76L330.00,399.52L332.50,399.09L340.26,399.06L341.50,399.16L345.00,400.05L349.00,401.90L350.00,402.22L351.00,402.37L353.50,402.59L356.00,402.67L361.50,402.56L362.64,402.50L363.00,402.36L363.50,401.83L364.00,401.00L364.50,399.89L366.00,391.10L366.50,389.53L367.50,386.98L368.00,386.29L368.33,386.14L369.00,386.39L369.50,386.82L370.50,388.01L371.00,389.01L371.50,390.39L374.50,400.01L375.00,401.07L375.50,401.70L376.00,402.18L376.50,402.33L377.50,402.02L379.50,400.89L381.00,400.53L382.50,400.30L384.50,400.28L387.61,400.43L388.50,400.66L390.00,401.22L390.54,401.29L391.00,400.62L391.50,398.78L392.26,395.10L393.50,385.85L393.98,383.04L394.50,381.05L395.00,379.62L395.36,379.26L395.50,379.32L396.00,380.34L397.00,384.34L399.00,398.76L399.32,399.75L399.50,399.70L400.00,399.20L401.00,397.72L402.00,396.61L402.59,396.30L403.00,396.43L403.50,396.84L404.50,397.87L406.00,399.77L406.50,400.23L408.50,401.37L410.00,401.89L411.50,401.98L418.00,401.67L420.00,401.67L421.50,402.02L424.50,403.16L426.00,403.51L441.85,403.88L442.50,403.76L443.00,403.55L444.00,402.91L446.00,401.44L448.00,399.56L449.00,398.81L449.59,398.54L451.00,398.16L452.50,398.04L453.50,398.25L456.00,399.17L457.00,399.38L458.00,399.38L461.50,399.06L462.00,399.10L462.50,399.30L464.00,400.36L464.50,400.97L466.00,403.42L466.50,403.93L466.81,404.05L470.50,404.25L471.50,404.55L473.50,405.41L474.50,405.60L479.50,405.26L487.00,405.26L490.06,405.43L490.50,405.68L492.00,407.78L492.58,408.14L493.00,407.06L493.50,403.60L494.30,396.09L495.50,379.57L496.00,373.91L497.00,366.99L497.50,365.03L497.75,364.75L498.00,365.04L498.50,367.04L499.50,373.93L500.00,379.44L501.00,392.75L501.50,396.53L502.00,399.47L502.40,400.39L503.00,400.08L504.00,399.01L504.50,398.69L505.00,398.68L506.50,398.89L509.00,399.55L510.00,399.95L512.00,400.97L513.24,401.25L514.00,401.03L514.50,400.68L516.50,398.82L517.00,398.50L517.50,398.33L521.00,398.07L524.44,397.98L525.50,398.05L527.00,398.33L532.00,399.56L533.00,399.91L534.00,400.49L534.50,402.01L535.50,406.95L536.00,408.40L536.14,408.48L536.50,407.59L537.00,403.78L537.50,397.82L538.00,390.21L538.50,375.58L540.79,292.78L541.00,289.68L541.50,286.08L542.00,290.35L542.17,292.78L542.50,301.23L544.00,350.69L544.50,377.09L544.75,384.38L545.00,379.62L545.61,353.04L546.47,330.66L547.51,313.44L548.37,291.06L549.00,284.98L549.23,284.35L549.50,285.80L550.00,292.26L551.81,330.66L553.00,350.32L554.00,363.82L555.50,379.58L556.50,388.17L558.50,400.92L559.00,402.81L559.39,403.32L559.50,403.29L560.00,402.44L560.50,400.69L561.50,395.84L562.00,392.57L562.50,388.22L563.50,377.09L564.50,363.32L565.00,354.34L568.00,291.66L568.50,285.40L569.00,281.05L569.20,280.56L569.50,281.18L570.00,284.15L570.50,288.61L571.61,306.56L573.33,330.66L575.00,366.28L575.50,374.55L576.50,388.18L577.50,397.39L578.00,400.19L578.15,400.39L579.00,400.30L582.00,399.35L582.98,399.19L588.50,398.97L589.50,398.61L591.50,397.65L592.50,397.47L593.00,397.71L593.50,398.24L594.50,399.61L595.00,400.16L595.37,400.39L599.50,401.32L600.50,402.02L602.50,403.89L603.00,404.20L603.64,404.35L604.00,404.17L604.50,403.37L605.00,402.05L605.70,399.53L606.00,397.72L606.50,392.40L607.50,377.69L609.15,344.44L610.52,323.77L611.38,306.56L612.59,279.01L613.97,253.18L615.00,238.97L615.34,235.96L616.00,231.90L616.50,230.00L616.72,229.77L617.00,230.11L617.50,231.97L618.00,234.93L619.13,247.84L620.00,255.36L620.85,261.62L622.00,268.40L623.50,275.06L624.00,276.50L624.30,276.77L624.50,276.73L625.00,276.33L626.02,275.05L627.00,273.60L627.50,273.06L627.74,272.98L628.00,273.09L628.50,273.84L629.12,275.39L629.50,277.25L631.00,290.37L632.00,301.58L634.00,328.30L635.00,345.60L635.49,353.04L636.00,358.91L637.00,368.38L637.73,373.71L638.50,378.31L639.50,382.98L640.50,386.27L641.00,387.61L641.50,388.67L642.00,389.36L644.10,390.92L644.50,391.54L645.00,392.68L646.00,395.25L646.50,396.21L647.00,396.60L648.00,396.55L651.00,396.13L652.00,396.10L652.50,396.25L653.00,396.54L654.50,397.72L655.29,398.15L658.00,399.00L659.59,399.19L660.00,398.94L660.50,398.12L661.50,395.85L662.50,393.96L663.00,393.08L663.50,392.65L664.00,392.83L665.50,394.60L667.00,396.01L667.50,396.38L668.00,396.58L669.00,396.51L672.00,395.61L677.00,395.73L677.50,395.55L679.00,394.59L679.74,394.37L680.00,394.41L680.50,394.72L682.50,397.15L684.50,398.75L687.00,400.38L690.00,401.86L692.50,402.88L694.50,403.42L698.00,403.93L701.00,404.17L715.50,404.22L720.33,404.05L722.00,403.79L725.50,402.87L727.22,402.67L734.50,402.70L735.50,402.93L737.50,403.59L738.50,403.70L739.00,403.57L739.50,403.29L741.50,401.74L742.37,401.47L743.50,401.68L746.00,402.77L747.00,403.01L750.50,403.27L754.00,403.36L754.50,403.23L755.00,402.95L757.50,400.76L758.00,400.45L758.50,400.28L759.50,400.39L761.50,401.19L762.17,401.29L762.50,401.19L763.00,400.68L763.50,399.88L765.00,397.10L765.50,396.50L765.96,396.30L766.50,396.44L767.00,396.79L769.00,399.01L771.00,401.02L771.50,401.42L771.98,401.64L773.00,401.86L776.00,402.29L780.00,402.56L787.50,402.85L793.00,403.28L795.23,403.36L795.50,403.27L796.00,402.74L798.00,399.02L798.50,398.57L798.67,398.54L800.00,398.68L802.50,399.26L803.50,399.39L805.00,399.36L808.50,399.07L809.00,399.06L809.50,399.17L810.50,399.93L812.00,401.57L814.50,404.03L815.00,404.32L815.37,404.39L817.00,404.20L821.50,402.81L823.50,402.50L833.00,402.53L837.50,403.25L841.50,403.78L845.16,404.05L846.00,403.79L846.50,403.43L848.60,401.12L849.50,399.77L851.50,395.93L853.00,393.76L854.00,392.62L854.63,392.34L862.00,392.14L866.50,391.59L868.50,391.48L869.00,391.57L870.00,392.05L870.64,392.51L871.00,393.16L871.50,395.00L872.50,399.92L873.00,401.90L873.50,402.83L875.00,402.67L878.00,401.85L879.00,401.67L884.00,401.64L885.00,401.92L887.50,403.52L888.50,403.97L889.06,404.05L893.50,404.03L894.00,403.72L894.50,403.07L896.50,399.17L897.00,398.35L897.67,397.68L899.50,396.85L901.50,396.34L908.00,396.13L908.50,396.25L909.00,396.58L909.50,397.07L911.50,399.72L912.31,400.61L914.00,402.00L916.50,403.74L917.22,404.35L918.00,405.40L918.60,406.42L919.50,408.70L919.80,409.00L920.00,408.47L920.50,403.58L921.01,396.09L921.50,385.54L923.50,324.29L924.10,310.00L924.62,301.39L925.00,297.76L925.31,295.88L925.50,295.12L926.00,293.99L926.50,294.98L928.00,300.84L928.06,300.87L928.50,299.57L930.00,288.96L932.00,271.83L932.71,265.06L934.50,245.13L935.00,240.67L935.50,238.95L935.81,238.55L936.00,238.70L936.50,240.23L937.00,243.12L938.00,254.44L939.00,268.08L940.50,293.33L943.00,346.08L943.50,354.82L944.50,369.44L945.11,375.43L946.00,380.62L946.50,382.81L947.00,384.64L948.50,389.29L949.00,390.39L949.50,390.91L950.00,390.88L950.50,390.72L952.50,389.73L953.37,389.55L955.00,389.77L957.00,390.49L957.50,390.84L958.50,391.90L960.26,394.37L961.00,395.79L962.50,399.22L963.00,399.89L963.36,400.05L963.50,399.97L964.00,398.59L964.50,395.77L965.00,391.70L965.50,380.57L967.15,328.94L968.00,313.04L968.50,306.20L968.87,302.94L969.00,303.21L969.56,308.11L970.00,315.29L971.00,335.58L972.00,363.56L972.31,370.26L973.00,381.04L973.50,386.38L973.69,387.48L974.50,390.26L975.00,391.41L975.50,392.12L976.50,392.63L978.00,393.13L979.50,393.42L980.92,393.51L983.00,393.35L987.50,392.67L991.50,392.37L994.00,392.31L995.00,392.69L999.50,396.00L1000.00,396.27L1000.72,396.43L1011.50,396.45L1020.00,397.02L1023.11,397.12L1025.00,396.91L1029.00,395.81L1031.00,395.43L1039.00,395.47L1043.50,395.66L1044.50,396.03L1046.50,397.06L1047.50,397.40L1051.50,397.44L1070.50,397.12L1071.50,396.91L1074.00,395.79L1075.00,395.47L1075.62,395.40L1082.51,395.40L1083.50,395.67L1086.50,397.79L1087.50,398.15L1088.00,398.09L1088.50,397.80L1090.00,396.34L1090.50,395.95L1091.00,395.75L1094.56,395.74L1095.50,395.83L1097.00,396.27L1098.86,397.12" fill="none" stroke="#ff7f0e" stroke-width="1.35" stroke-linejoin="round"/>
</g>
<g class="ax">
<rect x="73" y="75" width="2" height="539" fill="#454545"/>
<rect x="73" y="75" width="2" height="13" fill="#000"/>
<rect x="74" y="88" width="1" height="46" fill="#000"/>
<rect x="74" y="519" width="1" height="95" fill="#000"/>
<rect x="73" y="600" width="2" height="14" fill="#000"/>
<rect x="73" y="613" width="1140" height="1" fill="#000"/>
<line x1="66.5" x2="73" y1="597.50" y2="597.50"/><line x1="66.5" x2="73" y1="537.50" y2="537.50"/><line x1="66.5" x2="73" y1="477.50" y2="477.50"/><line x1="66.5" x2="73" y1="417.50" y2="417.50"/><line x1="66.5" x2="73" y1="357.00" y2="357.00"/><line x1="66.5" x2="73" y1="296.20" y2="296.20"/><line x1="66.5" x2="73" y1="236.00" y2="236.00"/><line x1="66.5" x2="73" y1="176.00" y2="176.00"/><line x1="66.5" x2="73" y1="116.00" y2="116.00"/>
<line x1="216.50" x2="216.50" y1="614" y2="620.9"/><line x1="359.50" x2="359.50" y1="614" y2="620.9"/><line x1="501.50" x2="501.50" y1="614" y2="620.9"/><line x1="644.50" x2="644.50" y1="614" y2="620.9"/><line x1="786.50" x2="786.50" y1="614" y2="620.9"/><line x1="929.50" x2="929.50" y1="614" y2="620.9"/><line x1="1071.50" x2="1071.50" y1="614" y2="620.9"/>
<text transform="translate(62.7,601.50) scale(1,1.1)" text-anchor="end">-3000</text><text transform="translate(62.7,541.50) scale(1,1.1)" text-anchor="end">-2000</text><text transform="translate(62.7,481.50) scale(1,1.1)" text-anchor="end">-1000</text><text transform="translate(62.7,421.50) scale(1,1.1)" text-anchor="end">0</text><text transform="translate(62.7,361.00) scale(1,1.1)" text-anchor="end">1000</text><text transform="translate(62.7,300.20) scale(1,1.1)" text-anchor="end">2000</text><text transform="translate(62.7,240.00) scale(1,1.1)" text-anchor="end">3000</text><text transform="translate(62.7,180.00) scale(1,1.1)" text-anchor="end">4000</text><text transform="translate(62.7,120.00) scale(1,1.1)" text-anchor="end">5000</text>
<text transform="translate(74.10,634) scale(1,1.1)" text-anchor="middle">00:00</text><text transform="translate(216.60,634) scale(1,1.1)" text-anchor="middle">03:00</text><text transform="translate(359.10,634) scale(1,1.1)" text-anchor="middle">06:00</text><text transform="translate(501.60,634) scale(1,1.1)" text-anchor="middle">09:00</text><text transform="translate(644.10,634) scale(1,1.1)" text-anchor="middle">12:00</text><text transform="translate(786.60,634) scale(1,1.1)" text-anchor="middle">15:00</text><text transform="translate(929.10,634) scale(1,1.1)" text-anchor="middle">18:00</text><text transform="translate(1071.60,634) scale(1,1.1)" text-anchor="middle">21:00</text>
<text transform="translate(17.3,79.9) rotate(-90) scale(1,1.1)" text-anchor="end">Leistung [Watt]</text>
</g>
<g class="legend">
<rect x="1237" y="331" width="13" height="13" fill="#1f77b4" fill-opacity="0.15"/>
<rect x="1237" y="353" width="13" height="13" fill="#aec7e8"/>
<rect x="1237" y="375" width="13" height="13" fill="#ff7f0e"/>
<text x="1257.6" y="343.7" style="font-size:15px;fill:#000;fill-opacity:0.14">Leistung</text>
<text x="1257.6" y="365.7" style="font-size:15px">Bilanz</text>
<text x="1257.6" y="387.7" style="font-size:15px">Verbrauch ges.</text>
</g>
</svg>
<p class="cap"><span>Bilanz: + Einspeisung / - Fremdbezug</span></p>
</body>
</html>
